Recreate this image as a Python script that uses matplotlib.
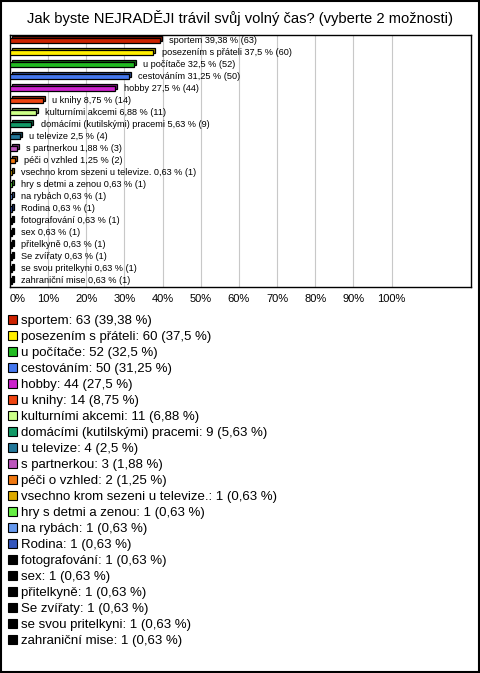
import matplotlib
matplotlib.use("Agg")
import matplotlib.pyplot as plt
import matplotlib.transforms as mtransforms
from matplotlib.patches import Patch, Rectangle
from matplotlib.colors import to_rgb

plt.rcParams['font.family'] = ['Liberation Sans', 'DejaVu Sans']

# Survey answers
labels = ["sportem", "posezením s přáteli", "u počítače", "cestováním", "hobby",
          "u knihy", "kulturními akcemi", "domácími (kutilskými) pracemi", "u televize",
          "s partnerkou", "péči o vzhled", "vsechno krom sezeni u televize.",
          "hry s detmi a zenou", "na rybách", "Rodina", "fotografování", "sex",
          "přitelkyně", "Se zvířaty", "se svou pritelkyni", "zahraniční mise"]
counts = [63, 60, 52, 50, 44, 14, 11, 9, 4, 3, 2, 1, 1, 1, 1, 1, 1, 1, 1, 1, 1]
percents = [39.38, 37.5, 32.5, 31.25, 27.5, 8.75, 6.88, 5.63, 2.5, 1.88, 1.25,
            0.63, 0.63, 0.63, 0.63, 0.63, 0.63, 0.63, 0.63, 0.63, 0.63]
colors = ["#cc2200", "#ffee00", "#22bb22", "#4477ee", "#cc22cc", "#ee4411",
          "#ccff88", "#119966", "#227799", "#bb55bb", "#ee7711", "#ddaa00",
          "#66ee44", "#6699ee", "#3355bb", "#000000", "#000000", "#000000",
          "#000000", "#000000", "#000000"]
ticks = [0, 10, 20, 30, 40, 50, 60, 70, 80, 90, 100]


def fmt(p):
    return f"{p:g}".replace(".", ",")


W, H = 480, 673
fig = plt.figure(figsize=(W / 100, H / 100), dpi=100)

# outer frame
fig.patches.append(Rectangle((0.002, 0.002), 0.996, 0.996, transform=fig.transFigure,
                             fill=False, edgecolor="black", linewidth=1.5))

fig.text(0.5, 1 - 18 / H, "Jak byste NEJRADĚJI trávil svůj volný čas? (vyberte 2 možnosti)",
         ha="center", va="center", fontsize=10.6)

ax = fig.add_axes([10 / W, 1 - 287 / H, 461 / W, 252 / H])
ax.set_xlim(0, 120.8)
ax.set_ylim(20.5, -0.45)

ypos = list(range(len(labels)))

# grid only up to 100 %
ax.vlines(ticks[1:], -1, 21, color="#c8c8c8", linewidth=0.8, zorder=0)

# pseudo 3D bars: darker back face shifted up-right
shift = mtransforms.ScaledTranslation(0.02, 0.02, fig.dpi_scale_trans)
dark = [tuple(c * 0.6 for c in to_rgb(col)) for col in colors]
ax.barh(ypos, percents, height=0.45, color=dark, edgecolor="black", linewidth=0.9,
        transform=ax.transData + shift, zorder=2)
ax.barh(ypos, percents, height=0.45, color=colors, edgecolor="black", linewidth=0.9,
        zorder=3)

for y, p, n, lab in zip(ypos, percents, counts, labels):
    ax.annotate(f"{lab} {fmt(p)} % ({n})", (p, y), xytext=(6.5, 0),
                textcoords="offset points", va="center", ha="left", fontsize=6.6)

ax.set_xticks(ticks)
ax.set_xticklabels([f"{t}%" for t in ticks], fontsize=8)
ax.get_xticklabels()[0].set_ha("left")
ax.set_yticks([])
ax.tick_params(axis="x", length=0, pad=5)
for s in ax.spines.values():
    s.set_linewidth(1.0)

handles = [Patch(facecolor=c, edgecolor="black", linewidth=0.8) for c in colors]
leg_labels = [f"{lab}: {n} ({fmt(p)} %)" for lab, n, p in zip(labels, counts, percents)]
fig.legend(handles, leg_labels, loc="upper left", bbox_to_anchor=(8 / W, 1 - 315 / H),
           frameon=False, fontsize=9.5, handlelength=0.7, handleheight=0.7,
           handletextpad=0.25, labelspacing=0.285, borderaxespad=0, borderpad=0)

fig.savefig("out.png", dpi=100)
